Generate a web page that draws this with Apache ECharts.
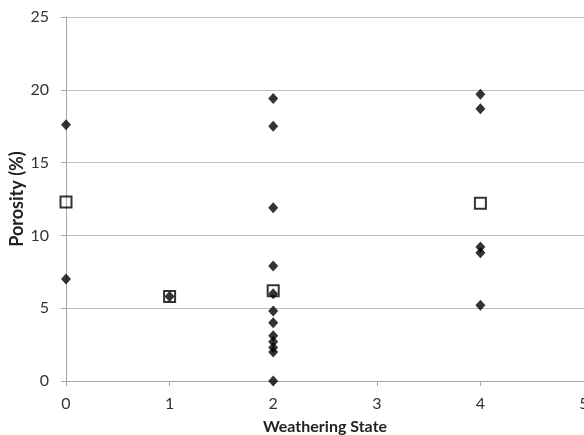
<!DOCTYPE html>
<html>
<head>
<meta charset="utf-8">
<script src="https://cdn.jsdelivr.net/npm/echarts@6/dist/echarts.min.js"></script>
<style>
  html, body { margin: 0; padding: 0; background: #fff; }
  #chart { width: 584px; height: 435px; }
</style>
</head>
<body>
<div id="chart"></div>
<script>
// Individual porosity measurements by weathering state
const sampleState = [0, 0, 1, 2, 2, 2, 2, 2, 2, 2, 2, 2, 2, 2, 2, 4, 4, 4, 4, 4];
const samplePorosity = [17.6, 7.0, 5.8, 19.4, 17.5, 11.9, 7.9, 6.0, 4.8, 4.0, 3.1, 2.7, 2.3, 2.0, 0.0, 19.7, 18.7, 9.2, 8.8, 5.2];

// Mean porosity per weathering state
const meanState = [0, 1, 2, 4];
const meanPorosity = [12.3, 5.8, 6.2, 12.2];

const xTicks = [0, 1, 2, 3, 4, 5];
const yTicks = [0, 5, 10, 15, 20, 25];

const pairs = (xs, ys) => xs.map((x, i) => [x, ys[i]]);

const font = 'Lato, "Open Sans", sans-serif';
const chart = echarts.init(document.getElementById('chart'));
chart.setOption({
  animation: false,
  backgroundColor: '#ffffff',
  grid: { left: 66, right: 0, top: 17, bottom: 54, containLabel: false, outerBoundsMode: 'none' },
  xAxis: {
    type: 'value',
    min: xTicks[0], max: xTicks[xTicks.length - 1], interval: 1,
    name: 'Weathering State',
    nameLocation: 'middle', nameGap: 38, nameMoveOverlap: false,
    nameTextStyle: { fontFamily: font, fontWeight: 'bold', fontSize: 16, color: '#222' },
    axisLine: { show: true, lineStyle: { color: '#a6a6a6', width: 1 } },
    axisTick: { show: true, length: 5, lineStyle: { color: '#a6a6a6' } },
    axisLabel: { fontFamily: font, fontSize: 16, color: '#333', margin: 15 },
    splitLine: { show: false }
  },
  yAxis: {
    type: 'value',
    min: yTicks[0], max: yTicks[yTicks.length - 1], interval: 5,
    name: 'Porosity (%)',
    nameLocation: 'middle', nameGap: 40, nameRotate: 90, nameMoveOverlap: false,
    nameTextStyle: { fontFamily: font, fontWeight: 'bold', fontSize: 18, color: '#222' },
    axisLine: { show: true, lineStyle: { color: '#a6a6a6', width: 1 } },
    axisTick: { show: true, length: 5, lineStyle: { color: '#a6a6a6' } },
    axisLabel: { fontFamily: font, fontSize: 16, color: '#333', margin: 17 },
    splitLine: { show: true, lineStyle: { color: '#bfbfbf', width: 1 } }
  },
  series: [
    {
      type: 'scatter',
      data: pairs(sampleState, samplePorosity),
      symbol: 'diamond',
      symbolSize: [10, 11],
      itemStyle: { color: '#000' },
      z: 3
    },
    {
      type: 'scatter',
      data: pairs(meanState, meanPorosity),
      symbol: 'rect',
      symbolSize: 11,
      itemStyle: { color: 'rgba(255,255,255,0)', borderColor: '#000', borderWidth: 2 },
      z: 4
    }
  ]
});
</script>
</body>
</html>
